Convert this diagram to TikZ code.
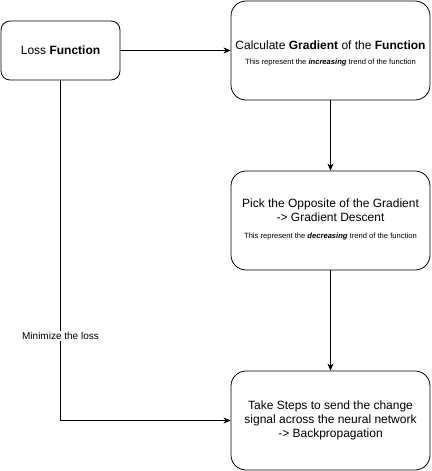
\documentclass[tikz,border=0pt]{standalone}
\usepackage{fontspec}
\setmainfont{Liberation Sans}
\usetikzlibrary{arrows.meta}
\begin{document}
\begin{tikzpicture}[x=1pt,y=-1pt,
  box/.style={draw=black,line width=0.8pt,align=center,font=\fontsize{12}{14}\selectfont,inner sep=0pt},
  conn/.style={draw=black,line width=0.8pt,-{Stealth[length=7pt,width=6pt,inset=2pt]}},
  small/.style={font=\fontsize{7.6}{9}\selectfont}]
\useasboundingbox (0,0) rectangle (431,471);
\node[box,rounded corners=9pt,minimum width=119pt,minimum height=59pt] (loss) at (60.5,50.5) {Loss \textbf{Function}};
\node[box,rounded corners=15pt,minimum width=199pt,minimum height=99pt] (grad) at (330.5,50.5) {};
\node (gradt) at (330.5,45.5) {\fontsize{12}{14}\selectfont Calculate \textbf{Gradient} of the \textbf{Function}};
\node[small] (grads) at (330.5,62.5) {This represent the \textbf{\textit{increasing}} trend of the function};
\node[box,rounded corners=15pt,minimum width=199pt,minimum height=99pt] (pick) at (330.5,220.5) {};
\node[align=center,font=\fontsize{12}{14}\selectfont] (pickt) at (330.5,210) {Pick the Opposite of the Gradient\\-> Gradient Descent};
\node[small] (picks) at (330.5,236.5) {This represent the \textbf{\textit{decreasing}} trend of the function};
\node[box,rounded corners=15pt,minimum width=199pt,minimum height=99pt] (take) at (330.5,420.5) {Take Steps to send the change\\signal across the neural network\\-> Backpropagation};
\draw[conn] (loss) -- (grad);
\draw[conn] (grad) -- (pick);
\draw[conn] (pick) -- (take);
\draw[conn] (loss.south) |- (take.west) node[pos=0.376,fill=white,inner sep=1pt,font=\fontsize{10}{12}\selectfont] (lbl) {Minimize the loss};
\end{tikzpicture}
\end{document}
